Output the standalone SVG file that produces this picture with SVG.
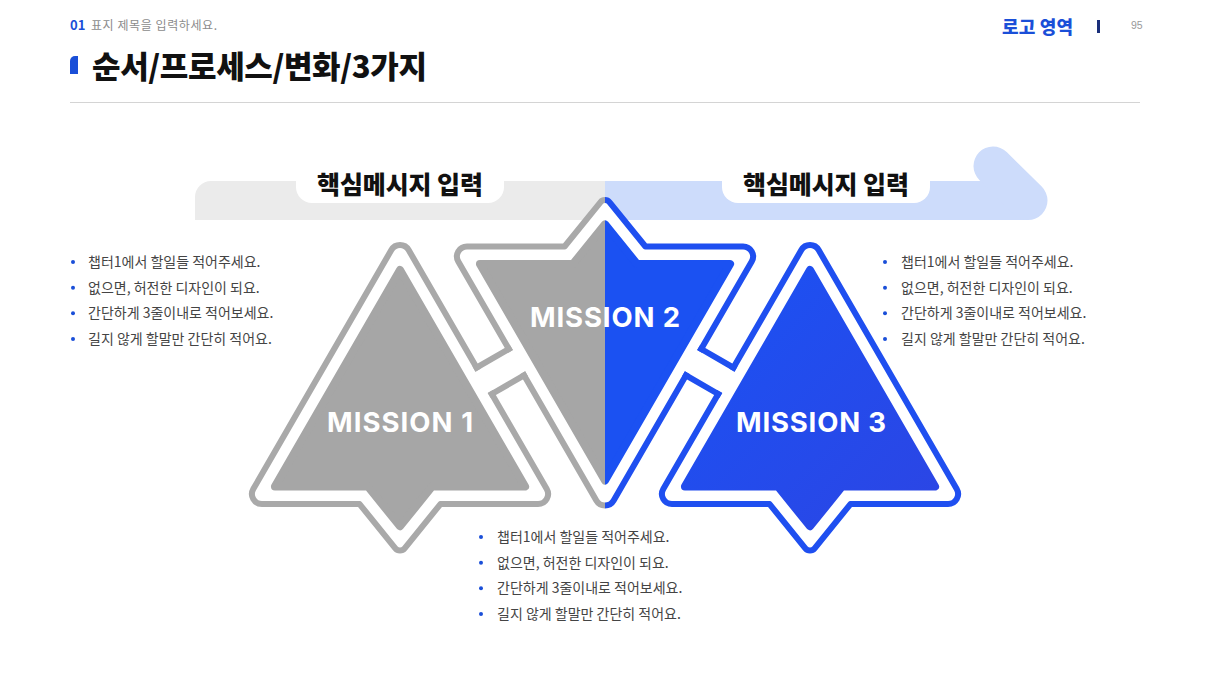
<svg xmlns="http://www.w3.org/2000/svg" xmlns:xlink="http://www.w3.org/1999/xlink" width="1210" height="680" viewBox="0 0 1210 680">
<style>
.kr{font-family:"Noto Sans CJK KR","Noto Sans",sans-serif}
.hd-num{font-size:13px;font-weight:700;fill:#1a4fd8}
.hd-sub{font-size:12px;fill:#8c8c8c}
.title{font-size:31px;font-weight:900;fill:#111}
.logo{font-size:18px;font-weight:900;fill:#1a4fd8}
.pg{font-family:"Liberation Sans",sans-serif;font-size:10.5px;fill:#9a9a9a}
.msg{font-size:25px;font-weight:900;fill:#111}
.ms{font-family:Inter,"Liberation Sans",sans-serif;font-size:27.5px;font-weight:700;fill:#fff}
.li{font-size:14px;fill:#444}
.dot{fill:#1a4fd8}
.ol-gray{fill:#fff;stroke:#a9a9a9;stroke-width:6;stroke-linejoin:round}
.ol-blue{fill:#fff;stroke:#1f4ff0;stroke-width:6;stroke-linejoin:round}
.in-gray{fill:#a6a6a6;stroke:#a6a6a6;stroke-width:8;stroke-linejoin:round}
.in-blue{fill:#1b51f2;stroke:#1b51f2;stroke-width:8;stroke-linejoin:round}
.in-blue3{fill:url(#g3);stroke:url(#g3);stroke-width:8;stroke-linejoin:round}
.bridge{fill:#fff}
.cap-gray{stroke:#a9a9a9;stroke-width:6;stroke-linecap:square;fill:none}
.cap-blue{stroke:#1f4ff0;stroke-width:6;stroke-linecap:square;fill:none}
</style>
<defs>
<path id="tri-outline" d="M391.34,250 A10,10 0 0 1 408.66,250 L546.72,489.1 A10,10 0 0 1 538.06,504.1 L440.43,504.1 L404.66,548.29 A6,6 0 0 1 395.34,548.29 L359.57,504.1 L261.94,504.1 A10,10 0 0 1 253.28,489.1 Z"/>
<path id="tri-inner" d="M400,270 L525.07,486.6 L432.09,486.6 L400,526.24 L367.91,486.6 L274.93,486.6 Z"/>
<clipPath id="clipL"><rect x="0" y="0" width="605" height="680"/></clipPath>
<clipPath id="clipR"><rect x="605" y="0" width="605" height="680"/></clipPath>
<linearGradient id="g3" x1="0" y1="0" x2="1" y2="1">
<stop offset="0" stop-color="#1a52f4"/>
<stop offset="1" stop-color="#2c45e4"/>
</linearGradient>
</defs>
<rect width="1210" height="680" fill="#fff"/>

<g id="header">
<text class="kr hd-num" x="70" y="30">01</text>
<text class="kr hd-sub" x="91" y="30" textLength="126" lengthAdjust="spacing">표지 제목을 입력하세요.</text>
<path d="M70,74 V61 A5,5 0 0 1 75,56 H78 V74 Z" fill="#1a4fd8"/>
<text class="kr title" x="92" y="78" textLength="335" lengthAdjust="spacing">순서/프로세스/변화/3가지</text>
<line x1="70" y1="102.5" x2="1140" y2="102.5" stroke="#d4d4d4" stroke-width="1"/>
<text class="kr logo" x="1002" y="34" textLength="71" lengthAdjust="spacing">로고 영역</text>
<rect x="1097" y="20" width="3" height="13" fill="#1a2f7a"/>
<text class="pg" x="1131" y="29">95</text>
</g>

<g id="banner">
<path d="M195,220 V197 A16,16 0 0 1 211,181 H605 V220 Z" fill="#ebebeb"/>
<rect x="605" y="181" width="423" height="39" fill="#cddcfb"/>
<line x1="1028" y1="200.5" x2="993" y2="166" stroke="#cddcfb" stroke-width="39" stroke-linecap="round"/>
<rect x="296" y="158" width="208" height="45" rx="16" fill="#fff"/>
<rect x="722" y="158" width="208" height="45" rx="16" fill="#fff"/>
<text class="kr msg" x="400" y="194" text-anchor="middle" textLength="166" lengthAdjust="spacing">핵심메시지 입력</text>
<text class="kr msg" x="826" y="194" text-anchor="middle" textLength="166" lengthAdjust="spacing">핵심메시지 입력</text>
</g>

<g id="node-mission1">
<use xlink:href="#tri-outline" href="#tri-outline" class="ol-gray"/>
<use xlink:href="#tri-inner" href="#tri-inner" class="in-gray"/>
<text class="ms" x="400" y="432" text-anchor="middle" textLength="146" lengthAdjust="spacing">MISSION 1</text>
</g>

<g id="node-mission2">
<g clip-path="url(#clipL)">
<g transform="translate(205,750.6) scale(1,-1)">
<use xlink:href="#tri-outline" href="#tri-outline" class="ol-gray"/>
<use xlink:href="#tri-inner" href="#tri-inner" class="in-gray"/>
</g>
</g>
<g clip-path="url(#clipR)">
<g transform="translate(205,750.6) scale(1,-1)">
<use xlink:href="#tri-outline" href="#tri-outline" class="ol-blue"/>
<use xlink:href="#tri-inner" href="#tri-inner" class="in-blue"/>
</g>
</g>
<text class="ms" x="605" y="327" text-anchor="middle" textLength="150" lengthAdjust="spacing">MISSION 2</text>
</g>

<g id="node-mission3">
<g transform="translate(410,0)">
<use xlink:href="#tri-outline" href="#tri-outline" class="ol-blue"/>
<use xlink:href="#tri-inner" href="#tri-inner" class="in-blue3"/>
</g>
<text class="ms" x="811" y="432" text-anchor="middle" textLength="150" lengthAdjust="spacing">MISSION 3</text>
</g>

<g id="connectors">
<polygon class="bridge" points="472.85,373.18 485.1,394.4 527.71,369.8 515.46,348.58"/>
<line class="cap-gray" x1="476.55" y1="367.59" x2="508.77" y2="348.99"/>
<line class="cap-gray" x1="491.8" y1="394" x2="524.02" y2="375.4"/>
<polygon class="bridge" points="737.15,373.18 724.9,394.4 682.29,369.8 694.54,348.58"/>
<line class="cap-blue" x1="733.45" y1="367.59" x2="701.23" y2="348.99"/>
<line class="cap-blue" x1="718.2" y1="394" x2="685.98" y2="375.4"/>
</g>

<g id="list-left">
<circle class="dot" cx="73" cy="262" r="2"/>
<circle class="dot" cx="73" cy="287.7" r="2"/>
<circle class="dot" cx="73" cy="313.3" r="2"/>
<circle class="dot" cx="73" cy="339" r="2"/>
<text class="kr li" x="88" y="267">챕터1에서 할일들 적어주세요.</text>
<text class="kr li" x="88" y="292.7">없으면, 허전한 디자인이 되요.</text>
<text class="kr li" x="88" y="318.3">간단하게 3줄이내로 적어보세요.</text>
<text class="kr li" x="88" y="344">길지 않게 할말만 간단히 적어요.</text>
</g>

<g id="list-right">
<circle class="dot" cx="885" cy="262" r="2"/>
<circle class="dot" cx="885" cy="287.7" r="2"/>
<circle class="dot" cx="885" cy="313.3" r="2"/>
<circle class="dot" cx="885" cy="339" r="2"/>
<text class="kr li" x="901" y="267">챕터1에서 할일들 적어주세요.</text>
<text class="kr li" x="901" y="292.7">없으면, 허전한 디자인이 되요.</text>
<text class="kr li" x="901" y="318.3">간단하게 3줄이내로 적어보세요.</text>
<text class="kr li" x="901" y="344">길지 않게 할말만 간단히 적어요.</text>
</g>

<g id="list-bottom">
<circle class="dot" cx="481" cy="537" r="2"/>
<circle class="dot" cx="481" cy="562.7" r="2"/>
<circle class="dot" cx="481" cy="588.3" r="2"/>
<circle class="dot" cx="481" cy="614" r="2"/>
<text class="kr li" x="497" y="542">챕터1에서 할일들 적어주세요.</text>
<text class="kr li" x="497" y="567.7">없으면, 허전한 디자인이 되요.</text>
<text class="kr li" x="497" y="593.3">간단하게 3줄이내로 적어보세요.</text>
<text class="kr li" x="497" y="619">길지 않게 할말만 간단히 적어요.</text>
</g>
</svg>
